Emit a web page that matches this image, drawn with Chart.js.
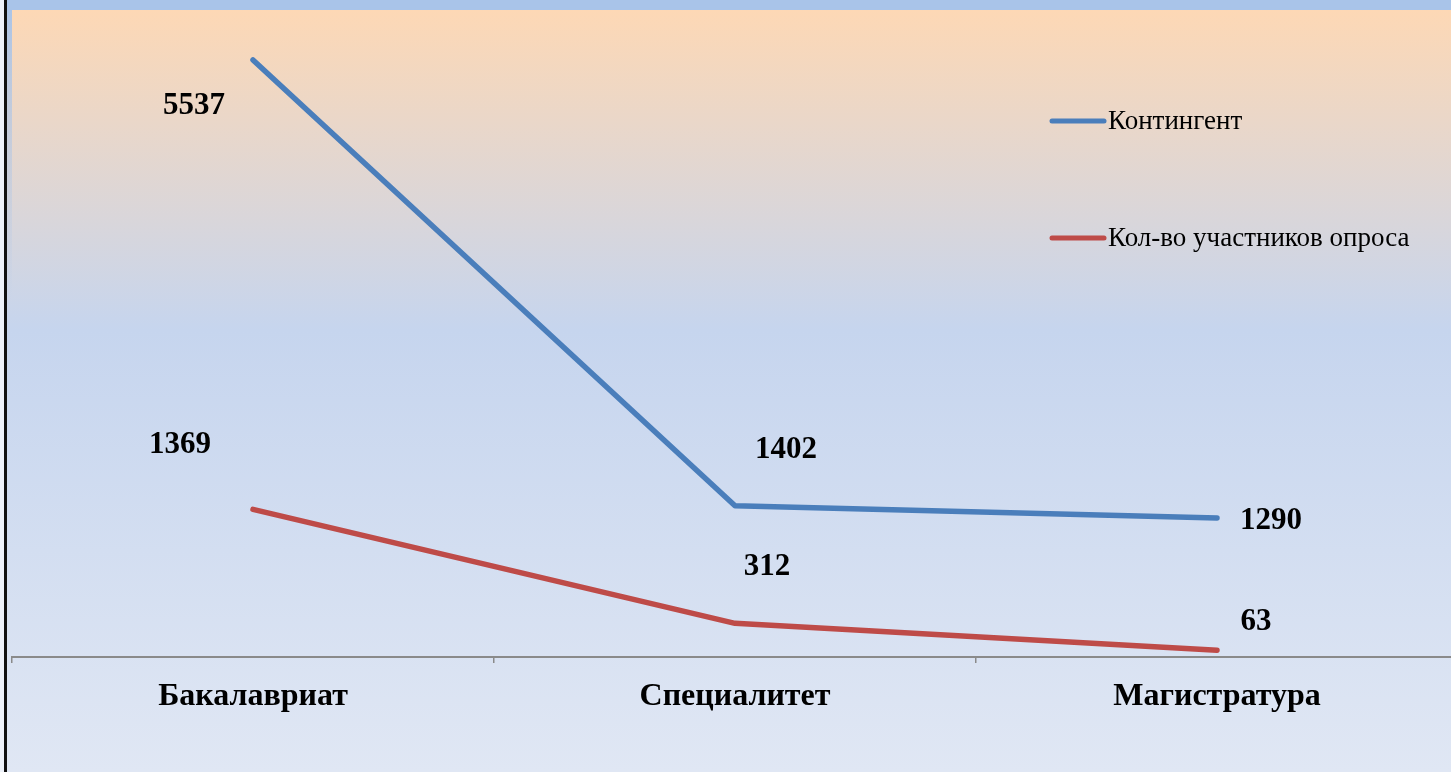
<!DOCTYPE html>
<html>
<head>
<meta charset="utf-8">
<script src="https://cdn.jsdelivr.net/npm/chart.js@4.4.0/dist/chart.umd.min.js"></script>
<style>
  html, body { margin: 0; padding: 0; overflow: hidden; background: #eef2fa; }
  #wrap { position: relative; width: 1458px; height: 772px; }
</style>
</head>
<body>
<div id="wrap"><canvas id="grafico"></canvas></div>
<script>
const categorias = ['Бакалавриат', 'Специалитет', 'Магистратура'];
const contingente = [5537, 1402, 1290];
const participantes = [1369, 312, 63];
const nombresSeries = ['Контингент', 'Кол-во участников опроса'];

// desplazamiento de cada etiqueta respecto a su punto (px)
const desplazamientos = [
  [[-59, 46], [51, -56], [54, 3]],
  [[-73, -64], [32, -56], [39, -28]]
];

const fondo = {
  id: 'fondo',
  beforeDraw(chart) {
    const ctx = chart.ctx;
    const w = chart.width, h = chart.height;
    ctx.save();
    ctx.fillStyle = '#eef2fa';
    ctx.fillRect(0, 0, w, h);
    const g = ctx.createLinearGradient(0, 10, 0, h);
    g.addColorStop(0, '#fdd8b5');
    g.addColorStop(0.42, '#c6d5ee');
    g.addColorStop(1, '#e0e7f4');
    ctx.fillStyle = g;
    ctx.fillRect(7, 10, w - 7, h - 10);
    // franja azul superior e izquierda
    ctx.fillStyle = '#a9c4e9';
    ctx.fillRect(7, 0, w - 7, 10);
    const gl = ctx.createLinearGradient(0, 0, 0, 300);
    gl.addColorStop(0, 'rgba(169,196,233,1)');
    gl.addColorStop(1, 'rgba(169,196,233,0)');
    ctx.fillStyle = gl;
    ctx.fillRect(7, 10, 5, 290);
    // borde negro
    ctx.fillStyle = '#111';
    ctx.fillRect(4, 0, 3, h);
    ctx.restore();
  }
};

const etiquetas = {
  id: 'etiquetas',
  afterDatasetsDraw(chart) {
    const ctx = chart.ctx;
    ctx.save();
    ctx.font = 'bold 31px "Liberation Serif", "Times New Roman", serif';
    ctx.fillStyle = '#000';
    ctx.textAlign = 'center';
    ctx.textBaseline = 'middle';
    chart.data.datasets.forEach((ds, i) => {
      chart.getDatasetMeta(i).data.forEach((p, j) => {
        const d = desplazamientos[i][j];
        ctx.fillText(String(ds.data[j]), p.x + d[0], p.y + d[1]);
      });
    });
    ctx.restore();
  }
};

const leyenda = {
  id: 'leyenda',
  afterDraw(chart) {
    const ctx = chart.ctx;
    const filas = [121, 238];
    ctx.save();
    ctx.font = '27px "Liberation Serif", "Times New Roman", serif';
    ctx.textBaseline = 'middle';
    ctx.lineCap = 'round';
    chart.data.datasets.forEach((ds, i) => {
      const y = filas[i];
      ctx.strokeStyle = ds.borderColor;
      ctx.lineWidth = 5;
      ctx.beginPath();
      ctx.moveTo(1052, y);
      ctx.lineTo(1104, y);
      ctx.stroke();
      ctx.fillStyle = '#000';
      ctx.fillText(ds.label, 1108, y + 1);
    });
    ctx.restore();
  }
};

new Chart(document.getElementById('grafico'), {
  type: 'line',
  data: {
    labels: categorias,
    datasets: [
      {
        label: nombresSeries[0],
        data: contingente,
        borderColor: '#4a7ebb',
        borderWidth: 5.5,
        borderCapStyle: 'round',
        borderJoinStyle: 'round',
        pointRadius: 0,
        tension: 0
      },
      {
        label: nombresSeries[1],
        data: participantes,
        borderColor: '#be4b48',
        borderWidth: 5.5,
        borderCapStyle: 'round',
        borderJoinStyle: 'round',
        pointRadius: 0,
        tension: 0
      }
    ]
  },
  options: {
    responsive: true,
    maintainAspectRatio: false,
    animation: false,
    layout: { padding: { left: 12, top: 10, right: 0, bottom: 0 } },
    plugins: {
      legend: { display: false },
      tooltip: { enabled: false }
    },
    scales: {
      x: {
        offset: true,
        afterFit: (scale) => { scale.height = 115; },
        grid: {
          offset: true,
          drawOnChartArea: false,
          drawTicks: true,
          tickLength: 6,
          color: '#8a8a8a',
          lineWidth: 1.5
        },
        border: { display: true, color: '#8a8a8a', width: 2 },
        ticks: {
          color: '#000',
          padding: 15,
          font: { family: '"Liberation Serif", "Times New Roman", serif', size: 32, weight: 'bold' }
        }
      },
      y: {
        display: false,
        min: 0,
        max: 6000
      }
    }
  },
  plugins: [fondo, etiquetas, leyenda]
});
</script>
</body>
</html>
